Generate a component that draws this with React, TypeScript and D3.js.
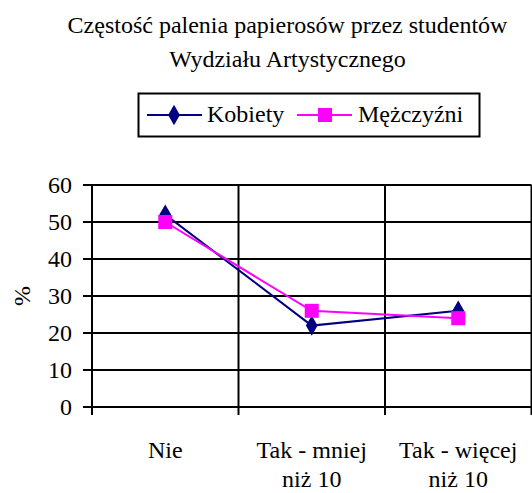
import React, { useRef, useEffect } from "react";
import * as d3 from "d3";

const categories = [["Nie"], ["Tak - mniej", "niż 10"], ["Tak - więcej", "niż 10"]];
const kobiety = [52, 22, 26];
const mezczyzni = [50, 26, 24];
const yTicks = [0, 10, 20, 30, 40, 50, 60];
const titleLines = ["Częstość palenia papierosów przez studentów", "Wydziału Artystycznego"];

const W = 532;
const H = 493;
const fs = 24;
const ff = "Liberation Serif";

const App = () => {
  const chart = useRef<SVGSVGElement>(null);

  useEffect(() => {
    const svg = d3.select(chart.current);
    svg.selectAll("*").remove();

    const x = d3.scaleBand().domain(categories.map((c, i) => String(i))).range([92, 531.5]);
    const y = d3.scaleLinear().domain([0, 60]).range([407, 185]);
    const cx = (i: number) => x(String(i))! + x.bandwidth() / 2;

    const label = (sel: any) => sel.style("font-family", ff).style("font-size", fs + "px").attr("fill", "#000");

    svg.append("rect").attr("width", W).attr("height", H).attr("fill", "#fff");

    // title
    svg.selectAll(".title")
      .data(titleLines)
      .join("text")
      .attr("x", 287.5)
      .attr("y", (d, i) => 33 + i * 33.5)
      .attr("text-anchor", "middle")
      .text((d) => d)
      .call(label);

    // legend
    svg.append("rect")
      .attr("x", 138.5).attr("y", 93.5).attr("width", 341).attr("height", 43)
      .attr("fill", "#fff").attr("stroke", "#000").attr("stroke-width", 2);
    svg.append("line").attr("x1", 147).attr("x2", 202).attr("y1", 115).attr("y2", 115)
      .attr("stroke", "#000080").attr("stroke-width", 2);
    svg.append("path").attr("d", d3.symbol(d3.symbolDiamond, 120)()!)
      .attr("transform", "translate(174,115)").attr("fill", "#000080");
    svg.append("text").attr("x", 207).attr("y", 122).text("Kobiety").call(label);
    svg.append("line").attr("x1", 297).attr("x2", 352).attr("y1", 115).attr("y2", 115)
      .attr("stroke", "#ff00ff").attr("stroke-width", 2);
    svg.append("rect").attr("x", 318).attr("y", 108).attr("width", 14).attr("height", 14).attr("fill", "#ff00ff");
    svg.append("text").attr("x", 358).attr("y", 122).text("Mężczyźni").call(label);

    // grid + y axis
    svg.append("g").selectAll("line")
      .data(yTicks)
      .join("line")
      .attr("x1", 83).attr("x2", 531.5)
      .attr("y1", (d) => y(d)).attr("y2", (d) => y(d))
      .attr("stroke", "#000").attr("stroke-width", 2);
    svg.append("g").selectAll("text")
      .data(yTicks)
      .join("text")
      .attr("x", 72)
      .attr("y", (d) => y(d) + 8)
      .attr("text-anchor", "end")
      .text((d) => d)
      .call(label);

    const bounds = categories.map((c, i) => x(String(i))!).concat([x.range()[1]]);
    svg.append("g").selectAll("line")
      .data(bounds)
      .join("line")
      .attr("x1", (d) => d).attr("x2", (d) => d)
      .attr("y1", y(60)).attr("y2", 415)
      .attr("stroke", "#000").attr("stroke-width", 2);

    svg.append("text")
      .attr("transform", `translate(30,${y(30)}) rotate(-90)`)
      .attr("text-anchor", "middle")
      .text("%")
      .call(label);

    // x labels
    const xl = svg.append("g").selectAll("text")
      .data(categories)
      .join("text")
      .attr("text-anchor", "middle")
      .call(label);
    xl.each(function (d, i) {
      d3.select(this).selectAll("tspan")
        .data(d)
        .join("tspan")
        .attr("x", cx(i))
        .attr("y", (l, j) => 458 + j * 28.5)
        .text((l) => l);
    });

    // series
    const line = d3.line<number>().x((d, i) => cx(i)).y((d) => y(d));
    svg.append("path").attr("d", line(kobiety)!).attr("fill", "none")
      .attr("stroke", "#000080").attr("stroke-width", 2);
    svg.append("g").selectAll("path")
      .data(kobiety)
      .join("path")
      .attr("d", d3.symbol(d3.symbolDiamond, 120)()!)
      .attr("transform", (d, i) => `translate(${cx(i)},${y(d)})`)
      .attr("fill", "#000080");
    svg.append("path").attr("d", line(mezczyzni)!).attr("fill", "none")
      .attr("stroke", "#ff00ff").attr("stroke-width", 2);
    svg.append("g").selectAll("rect")
      .data(mezczyzni)
      .join("rect")
      .attr("x", (d, i) => cx(i) - 7)
      .attr("y", (d) => y(d) - 7)
      .attr("width", 14).attr("height", 14)
      .attr("fill", "#ff00ff");
  }, []);

  return (
    <svg ref={chart} width={W} height={H} style={{ position: "absolute", left: 0, top: 0 }}></svg>
  );
};

export default App;
